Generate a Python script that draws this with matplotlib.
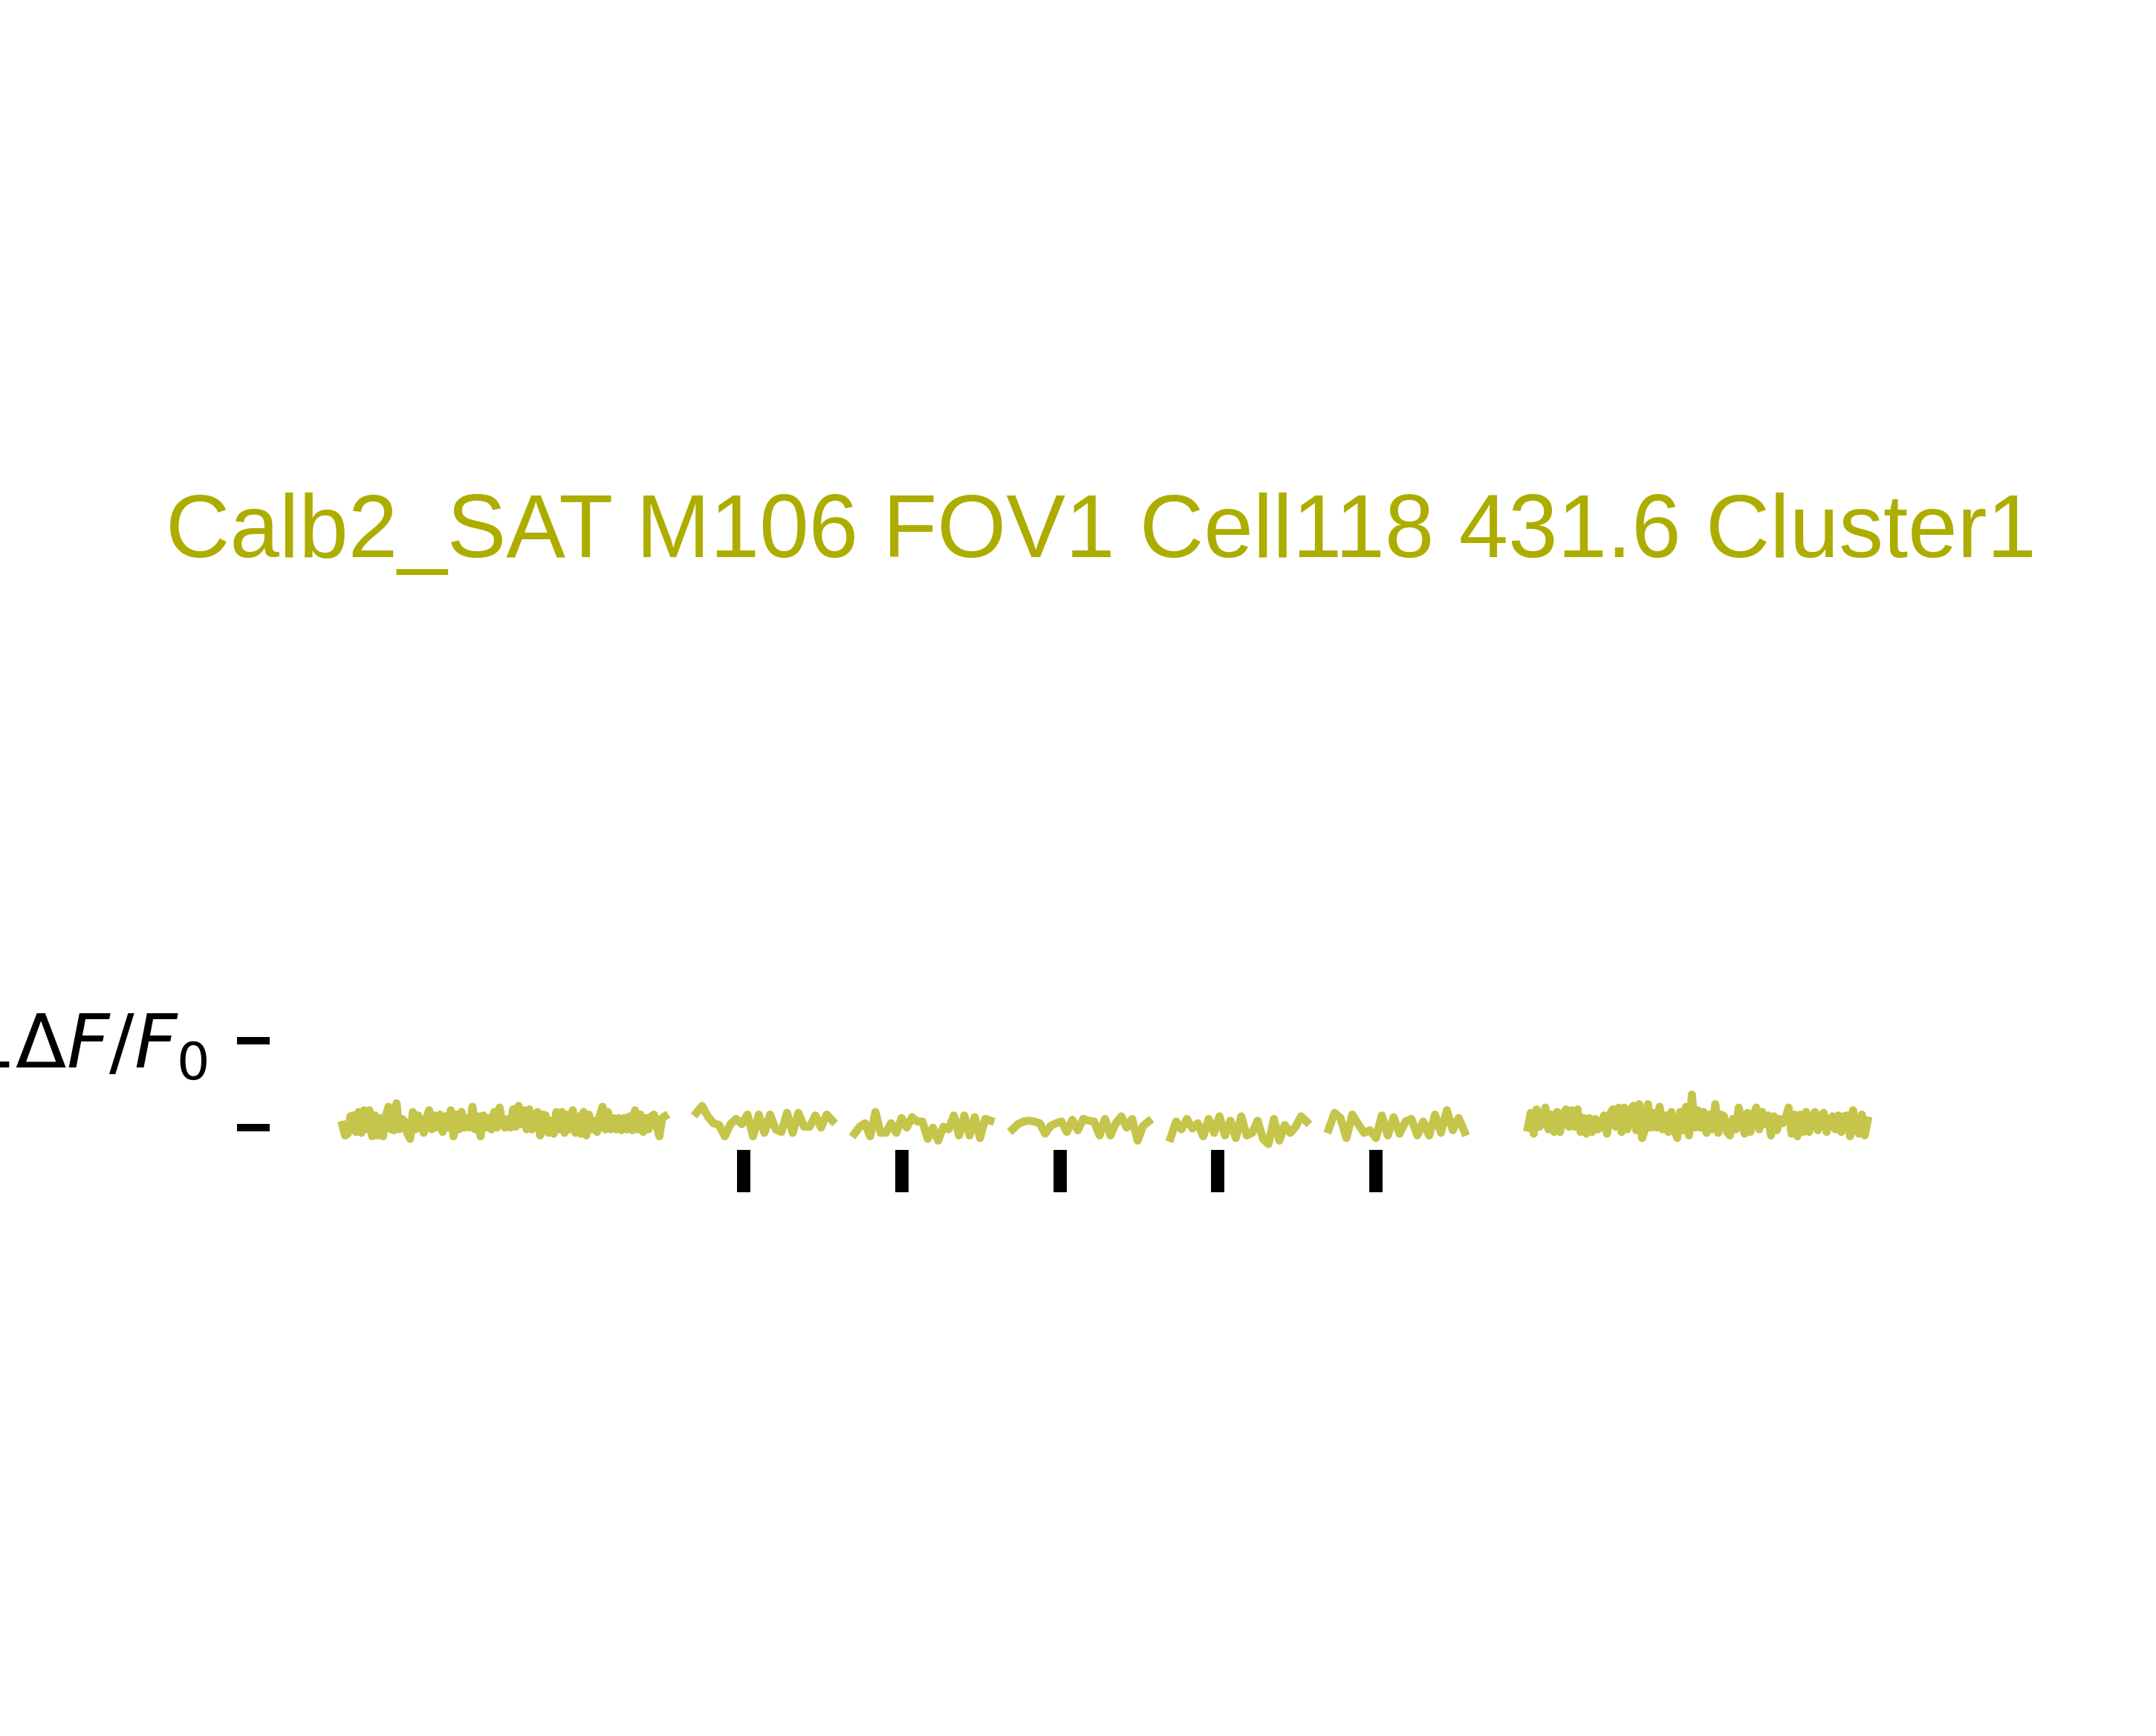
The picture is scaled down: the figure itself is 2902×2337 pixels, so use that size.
import numpy as np
import matplotlib.pyplot as plt

plt.rcParams['font.family'] = ['Liberation Sans', 'DejaVu Sans']

title = 'Calb2_SAT M106 FOV1 Cell118 431.6 Cluster1'
scale_label = r'$1\Delta F/F_0$'
ytick_vals = [0, 1]
ytick_labels = ['', scale_label]

# time windows in seconds
pre_window = [4.6, 25.0]
post_window = [79.6, 101.1]
stim_times = [30, 40, 50, 60, 70]
trial_window = [-3.0, 5.6]

# dF/F0 traces
pre_trace = [0.03, -0.09, -0.07, 0.13, 0.14, -0.05, 0.18, -0.06, 0.20, -0.02,
             0.20, -0.10, 0.14, -0.09, 0.11, -0.10, 0.13, 0.24, -0.02, -0.03,
             0.28, -0.02, 0.10, 0.07, -0.07, -0.13, 0.18, -0.02, 0.14, 0.04,
             -0.06, 0.11, 0.20, -0.02, 0.14, 0.00, 0.15, -0.05, 0.13, 0.00,
             0.20, -0.10, 0.15, -0.02, 0.18, 0.00, 0.11, 0.00, 0.24, -0.02,
             0.13, -0.10, 0.14, 0.00, 0.11, -0.02, 0.18, 0.00, 0.23, 0.07,
             0.00, 0.10, 0.00, 0.21, 0.01, 0.25, 0.04, 0.20, -0.02, 0.21,
             -0.02, 0.11, 0.18, -0.09, 0.15, 0.14, -0.06, 0.08, -0.07, 0.18,
             -0.02, 0.18, -0.06, 0.15, -0.02, 0.20, -0.06, 0.13, -0.07, 0.18,
             -0.09, 0.15, -0.02, 0.08, -0.05, 0.14, 0.24, -0.02, 0.18, -0.02,
             0.11, -0.02, 0.11, -0.03, 0.11, -0.02, 0.13, -0.03, 0.20, -0.02,
             0.15, -0.05, 0.11, -0.02, 0.13, 0.15, 0.01, -0.10, 0.11, 0.13]

trial_1 = [0.17, 0.25, 0.13, 0.05, 0.03, -0.10, 0.04, 0.10, 0.04, 0.15,
           -0.10, 0.15, -0.06, 0.15, -0.02, -0.05, 0.17, -0.06, 0.17, 0.01,
           0.01, 0.14, 0.00, 0.15, 0.08]
trial_2 = [-0.07, 0.01, 0.05, -0.10, 0.18, -0.06, -0.06, 0.05, -0.06, 0.11,
           0.00, 0.12, 0.07, 0.07, -0.13, 0.00, -0.15, 0.01, -0.02, 0.14,
           -0.09, 0.14, -0.09, 0.12, -0.12, 0.10, 0.08]
trial_3 = [-0.02, 0.04, 0.07, 0.08, 0.07, 0.05, -0.07, 0.02, 0.05, 0.07,
           -0.05, 0.09, -0.03, 0.10, 0.08, 0.07, -0.09, 0.10, -0.09, 0.05,
           0.13, 0.00, 0.10, -0.15, 0.02, 0.07]
trial_4 = [-0.12, 0.07, -0.02, 0.10, -0.01, 0.05, -0.10, 0.10, -0.06, 0.13,
           -0.09, 0.08, -0.12, 0.13, -0.09, -0.06, 0.08, -0.13, -0.19, 0.10,
           -0.15, 0.03, -0.06, 0.01, 0.13, 0.07]
trial_5 = [-0.02, 0.17, 0.11, -0.12, 0.15, 0.04, -0.06, -0.03, -0.12, 0.14,
           -0.09, 0.12, -0.07, 0.07, 0.10, -0.09, 0.07, -0.09, 0.15, -0.06,
           0.20, -0.03, 0.11, -0.05]
trial_traces = [trial_1, trial_2, trial_3, trial_4, trial_5]

post_trace = [0.00, 0.17, -0.07, 0.21, 0.01, 0.10, 0.23, -0.02, 0.15, -0.05,
              0.18, -0.05, 0.15, 0.21, 0.01, 0.20, 0.01, 0.21, -0.05, 0.11,
              -0.07, 0.11, -0.05, 0.10, -0.02, 0.04, 0.14, -0.07, 0.15, 0.21,
              0.01, 0.23, -0.05, 0.23, -0.02, 0.20, 0.25, -0.03, 0.27, -0.12,
              -0.02, 0.27, 0.00, 0.17, 0.00, 0.24, -0.02, 0.14, -0.05, 0.18,
              -0.02, -0.12, 0.18, -0.03, 0.24, -0.09, 0.38, 0.00, 0.20, 0.00,
              0.18, -0.06, 0.15, -0.02, 0.27, -0.06, 0.15, 0.13, -0.05, -0.09,
              0.10, -0.02, 0.23, 0.08, -0.07, 0.17, -0.05, 0.15, 0.23, -0.02,
              0.18, 0.04, 0.14, -0.09, 0.13, -0.03, 0.10, 0.05, 0.11, 0.23,
              -0.07, 0.15, -0.10, 0.15, -0.05, 0.18, -0.05, 0.11, 0.18, -0.03,
              0.13, 0.17, -0.05, 0.07, 0.13, -0.02, 0.14, -0.05, 0.13, 0.14,
              -0.10, 0.20, -0.02, -0.07, 0.15, -0.09, 0.08]

cell_color = '#adad00'

fig = plt.figure(figsize=(2903 / 300, 2337 / 300), dpi=300)
ax = fig.add_axes([363 / 2903, 0.1502, 2250 / 2903, 0.4005])

t = np.linspace(pre_window[0], pre_window[1], len(pre_trace))
ax.plot(t, pre_trace, color=cell_color, alpha=0.7, lw=2.6)

for stim, tr in zip(stim_times, trial_traces):
    t = np.linspace(stim + trial_window[0], stim + trial_window[1], len(tr))
    ax.plot(t, tr, color=cell_color, alpha=0.7, lw=2.6)

t = np.linspace(post_window[0], post_window[1], len(post_trace))
ax.plot(t, post_trace, color=cell_color, alpha=0.7, lw=2.6)

# stimulus markers
ax.vlines(stim_times, -0.74, -0.26, color='black', lw=4.3)

ax.set_xlim(0, 105.76)
ax.set_ylim(-4, 4)
for edge in ['top', 'right', 'bottom', 'left']:
    ax.spines[edge].set_visible(False)
ax.get_xaxis().set_visible(False)
ax.set_yticks(ytick_vals)
ax.set_yticklabels(ytick_labels)
ax.tick_params(axis='y', length=10.5, width=2.4, pad=9.6, labelsize=24)

fig.text(1482 / 2903, 1 - 750 / 2337, title, ha='center', va='baseline',
         fontsize=28.7, color=cell_color)

fig.savefig('out.png', dpi=300)
